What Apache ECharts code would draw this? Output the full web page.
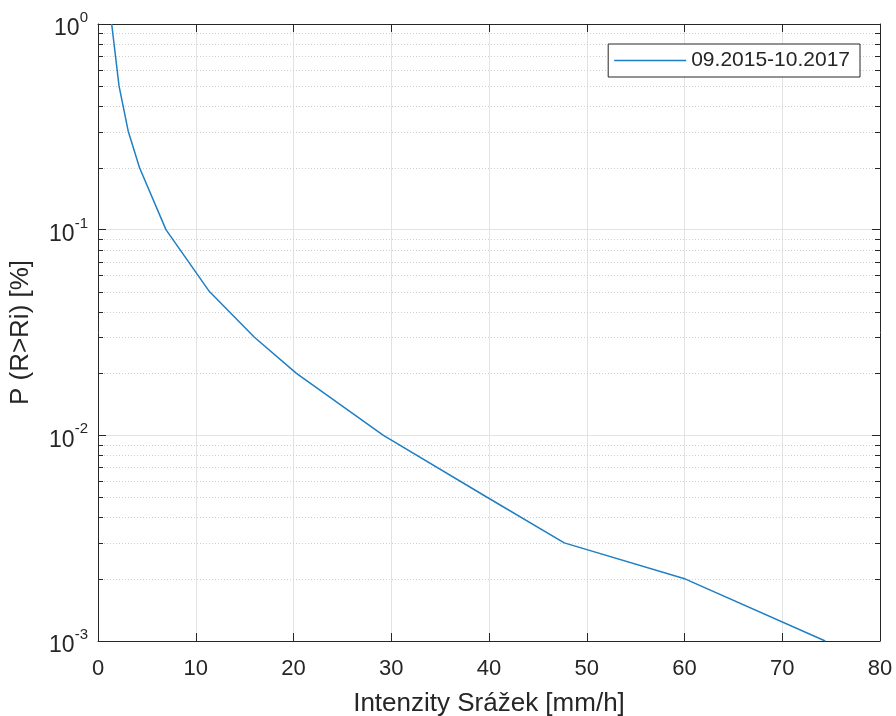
<!DOCTYPE html>
<html>
<head>
<meta charset="utf-8">
<script src="https://cdn.jsdelivr.net/npm/echarts@6/dist/echarts.min.js"></script>
<style>
  html, body { margin: 0; padding: 0; background: #fff; }
  #chart { width: 896px; height: 716px; }
</style>
</head>
<body>
<div id="chart"></div>
<script>
// Exceedance probability of rainfall intensity
const seriesName = '09.2015-10.2017';
const intensity = [1.4, 2.15, 3.1, 4.25, 6.95, 11.4, 16.0, 20.3, 29.2, 39.8, 47.7, 60.1, 74.4];
const probability = [1, 0.5, 0.3, 0.2, 0.1, 0.05, 0.03, 0.02, 0.01, 0.005, 0.003, 0.002, 0.001];
const xTicks = [0, 10, 20, 30, 40, 50, 60, 70, 80];
const yDecades = [0.001, 0.01, 0.1, 1];
const yMinor = [
  0.002, 0.003, 0.004, 0.005, 0.006, 0.007, 0.008, 0.009,
  0.02, 0.03, 0.04, 0.05, 0.06, 0.07, 0.08, 0.09,
  0.2, 0.3, 0.4, 0.5, 0.6, 0.7, 0.8, 0.9
];

const FONT = '"Liberation Sans", Arial, Helvetica, sans-serif';
const TEXT = '#262626';
const AXIS = '#262626';
const GRID = '#e3e3e3';
const LINE = '#1f7fc4';

const chart = echarts.init(document.getElementById('chart'), null, { renderer: 'canvas' });

const xBase = {
  type: 'value',
  min: xTicks[0],
  max: xTicks[xTicks.length - 1],
  interval: 10,
  axisLine: { show: true, onZero: false, lineStyle: { color: AXIS, width: 1 } },
  axisTick: { show: true, inside: true, length: 8, lineStyle: { color: AXIS } }
};
const yBase = {
  type: 'log',
  logBase: 10,
  min: yDecades[0],
  max: yDecades[yDecades.length - 1],
  splitNumber: 3,
  axisLine: { show: true, onZero: false, lineStyle: { color: AXIS, width: 1 } },
  axisTick: { show: true, inside: true, length: 8, lineStyle: { color: AXIS } }
};

chart.setOption({
  animation: false,
  backgroundColor: '#fff',
  textStyle: { fontFamily: FONT, color: TEXT },
  grid: { left: 98, right: 16, top: 24, bottom: 75, containLabel: false, outerBoundsMode: 'none' },
  legend: {
    data: [{ name: seriesName, icon: 'rect' }],
    right: 36,
    top: 44,
    orient: 'vertical',
    backgroundColor: '#fff',
    borderColor: AXIS,
    borderWidth: 1,
    borderRadius: 0,
    padding: [6, 10, 6, 6],
    itemWidth: 72,
    itemHeight: 1.5,
    itemGap: 4,
    textStyle: { fontFamily: FONT, fontSize: 21, color: TEXT }
  },
  xAxis: [
    Object.assign({}, xBase, {
      position: 'bottom',
      name: 'Intenzity Srážek [mm/h]',
      nameLocation: 'middle',
      nameGap: 50,
      nameTextStyle: { fontFamily: FONT, fontSize: 26, color: TEXT },
      axisLabel: { show: true, margin: 17, fontFamily: FONT, fontSize: 22, color: TEXT },
      splitLine: { show: true, lineStyle: { color: GRID, width: 1 } }
    }),
    Object.assign({}, xBase, {
      position: 'top',
      axisLabel: { show: false },
      splitLine: { show: false }
    })
  ],
  yAxis: [
    Object.assign({}, yBase, {
      position: 'left',
      name: 'P (R>Ri) [%]',
      nameLocation: 'middle',
      nameGap: 64,
      nameRotate: 90,
      nameTextStyle: { fontFamily: FONT, fontSize: 26, color: TEXT },
      axisLabel: {
        show: true,
        margin: 10,
        formatter: function (v) {
          const e = Math.round(Math.log10(v));
          return '{b|10}{e|' + e + '}';
        },
        rich: {
          b: { fontFamily: FONT, fontSize: 23, color: TEXT, padding: [10, 0, 0, 0] },
          e: { fontFamily: FONT, fontSize: 15, color: TEXT, padding: [0, 0, 12.5, 0] }
        }
      },
      splitLine: { show: true, lineStyle: { color: GRID, width: 1 } }
    }),
    Object.assign({}, yBase, {
      position: 'right',
      axisLabel: { show: false },
      splitLine: { show: false }
    })
  ],
  series: [
    {
      // dotted minor grid lines and short inward minor ticks on both sides
      type: 'custom',
      xAxisIndex: 0,
      yAxisIndex: 0,
      silent: true,
      z: 1,
      clip: false,
      data: yMinor.map(function (v) { return [0, v]; }),
      renderItem: function (params, api) {
        const cs = params.coordSys;
        const p = api.coord([0, api.value(1)]);
        const y = Math.round(p[1]) + 0.5;
        const x0 = cs.x, x1 = cs.x + cs.width;
        return {
          type: 'group',
          children: [
            {
              type: 'line',
              shape: { x1: x0, y1: y, x2: x1, y2: y },
              style: { stroke: '#cfcfcf', lineWidth: 1, lineDash: [1, 2] }
            },
            {
              type: 'line',
              shape: { x1: x0, y1: y, x2: x0 + 5, y2: y },
              style: { stroke: AXIS, lineWidth: 1 }
            },
            {
              type: 'line',
              shape: { x1: x1 - 5, y1: y, x2: x1, y2: y },
              style: { stroke: AXIS, lineWidth: 1 }
            }
          ]
        };
      }
    },
    {
      name: seriesName,
      type: 'line',
      xAxisIndex: 0,
      yAxisIndex: 0,
      z: 3,
      symbol: 'none',
      showSymbol: false,
      smooth: false,
      color: LINE,
      lineStyle: { color: LINE, width: 1.5 },
      data: intensity.map(function (x, i) { return [x, probability[i]]; })
    }
  ]
});
</script>
</body>
</html>
